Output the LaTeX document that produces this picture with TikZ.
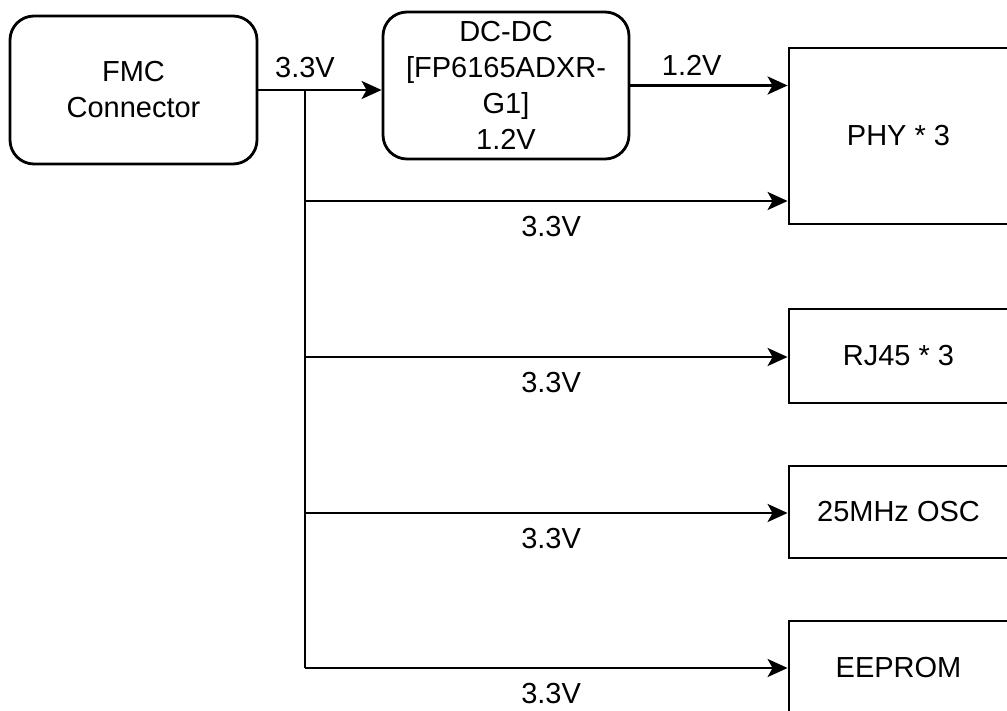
\documentclass[tikz,border=0pt]{standalone}
\usepackage{fontspec}
\setmainfont{Liberation Sans}
\usetikzlibrary{arrows.meta}

\tikzset{
  blk/.style={draw, line width=1.4pt, inner sep=0pt, align=center,
    font=\fontsize{14.5}{18}\selectfont},
  rblk/.style={blk, rounded corners=12pt},
  feed/.style={line width=1.4pt, -{Stealth[length=10pt,width=9pt,inset=2.5pt]}},
  volt/.style={inner sep=0pt, font=\fontsize{14.5}{18}\selectfont},
}

\begin{document}
\begin{tikzpicture}[x=0.5pt, y=-0.5pt]
  \useasboundingbox (0,0) rectangle (1007,711);
  \def\busx{305}
  % bloques de la izquierda
  \node[rblk, minimum width=123.5pt, minimum height=74pt] (fmc) at (133.5,90) {FMC\\Connector};
  \node[rblk, minimum width=123pt, minimum height=73.5pt] (dcdc) at (506,85.5)
    {DC-DC\\{[}FP6165ADXR-\\G1]\\1.2V};
  % cargas a la derecha (se cortan en el borde)
  \node[blk, minimum width=109.5pt, minimum height=88pt] (phy) at (898.5,136) {PHY * 3};
  \node[blk, minimum width=109.5pt, minimum height=47pt] (rj) at (898.5,356) {RJ45 * 3};
  \node[blk, minimum width=109.5pt, minimum height=46pt] (osc) at (898.5,512) {25MHz OSC};
  \node[blk, minimum width=109.5pt, minimum height=47pt] (eep) at (898.5,668) {EEPROM};
  % alimentacion 3.3V hacia el DC-DC
  \draw[feed] (fmc.east) -- (fmc.east -| dcdc.west);
  \coordinate (tap0) at (\busx,90);
  \node[volt] at ([yshift=11pt]tap0) {3.3V};
  % salida 1.2V
  \draw[feed] (dcdc.east) -- (dcdc.east -| phy.west)
    node[volt, pos=0.39, yshift=10pt] {1.2V};
  % ramas de 3.3V
  \foreach \y/\dst in {201/phy, 357/rj, 513/osc, 668/eep} {
    \coordinate (tap-\dst) at (\busx,\y);
    \draw[feed] (tap-\dst) -- (tap-\dst -| \dst.west)
      node[volt, pos=0.51, yshift=-13pt] {3.3V};
  }
  \draw[line width=1.4pt] (tap0) -- (tap-eep);
\end{tikzpicture}
\end{document}
